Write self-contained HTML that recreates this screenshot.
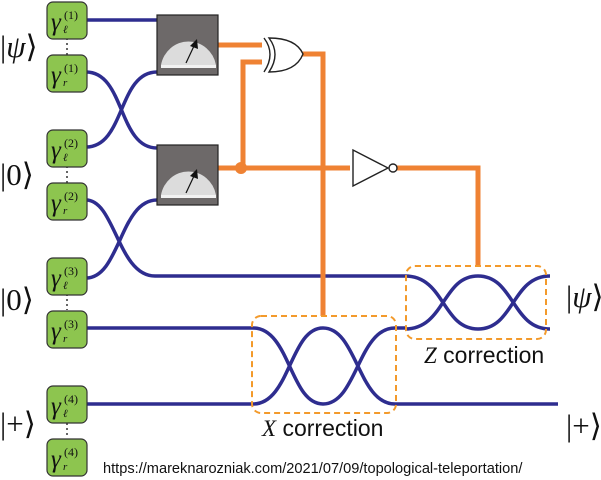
<!DOCTYPE html>
<html><head><meta charset="utf-8"><style>
html,body{margin:0;padding:0;background:#fff;}
svg{display:block}
.g{font-family:"Liberation Serif",serif;font-style:italic;}
.k{font-family:"Liberation Serif",serif;font-size:31px;}
.s{font-family:"Liberation Sans",sans-serif;}
</style></head><body>
<svg width="601" height="480" viewBox="0 0 601 480" xmlns="http://www.w3.org/2000/svg">
<defs>
<g id="meter">
<rect x="0" y="0" width="61" height="60" fill="#6d6969" stroke="#222" stroke-width="1.2"/>
<path d="M4,53 L4,50 A28,29 0 0 1 59,50 L59,53 Z" fill="#dcdcdc"/>
<rect x="4" y="50" width="55" height="3" fill="#f2f2f2"/>
<line x1="29" y1="48" x2="37" y2="31" stroke="#111" stroke-width="1.2"/>
<polygon points="40,24 41,34 33,31" fill="#111"/>
</g>
<g id="box">
<rect x="0" y="0" width="40" height="37" rx="6" fill="#8dc54f" stroke="#333" stroke-width="1.2"/>
</g>
</defs>

<g stroke="#333" stroke-width="1.5" stroke-dasharray="2,3">
<line x1="67" y1="38" x2="67" y2="55"/>
<line x1="67" y1="166" x2="67" y2="183"/>
<line x1="67" y1="294" x2="67" y2="310"/>
<line x1="67" y1="423" x2="67" y2="438"/>
</g>

<g fill="none" stroke="#2e2d8f" stroke-width="3.5">
<path d="M86,20 H157"/>
<path d="M86,72 C125,72 118,148 157,148"/>
<path d="M86,147 C125,147 118,72 157,72"/>
<path d="M86,200 C115,200 118,276 155,276 H405"/>
<path d="M86,278 C120,278 120,200 157,200"/>
<path d="M86,328 H253"/>
<path d="M86,404 H253"/>
<path d="M253,328 C290,328 290,404 323,404 C357,404 358,328 395,328 H405"/>
<path d="M253,404 C290,404 290,328 323,328 C357,328 358,404 395,404 H558"/>
<path d="M405,276 C445,276 442,329 478,329 C514,329 512,276 550,276"/>
<path d="M405,329 C445,329 442,276 478,276 C514,276 512,329 550,329"/>
</g>

<g fill="none" stroke="#ef8233" stroke-width="5">
<path d="M218,45 H262"/>
<path d="M262,62 H243 V168"/>
<path d="M218,168 H350"/>
<path d="M301,54 H323 V316"/>
<path d="M397,168 H478 V266"/>
</g>
<circle cx="241" cy="168" r="6" fill="#ef8233"/>

<g fill="none" stroke="#222" stroke-width="1.4">
<path d="M264,38 Q276,54 264,72"/>
<path d="M269,38 Q281,54 269,72 Q296,72 303,54 Q296,38 269,38 Z" fill="#fff"/>
</g>
<g fill="#fff" stroke="#222" stroke-width="1.4">
<polygon points="353,150 353,186 388,168"/>
<circle cx="393" cy="168" r="4"/>
</g>

<use href="#meter" x="157" y="15"/>
<use href="#meter" x="157" y="145"/>

<g fill="none" stroke="#f39a2b" stroke-width="2" stroke-dasharray="6,4">
<rect x="252" y="316" width="144" height="97" rx="9"/>
<rect x="406" y="266" width="140" height="73" rx="9"/>
</g>

<use href="#box" x="47" y="2"/>
<use href="#box" x="47" y="55"/>
<use href="#box" x="47" y="130"/>
<use href="#box" x="47" y="183"/>
<use href="#box" x="47" y="258"/>
<use href="#box" x="47" y="311"/>
<use href="#box" x="47" y="386"/>
<use href="#box" x="47" y="439"/>
<g fill="#111">
<g transform="translate(51,30)"><text class="g" font-size="25">γ</text><text class="g" font-size="11" x="12" y="3">ℓ</text><text font-family="Liberation Serif,serif" font-size="12" x="13" y="-11">(1)</text></g>
<g transform="translate(51,83)"><text class="g" font-size="25">γ</text><text class="g" font-size="11" x="12" y="3">r</text><text font-family="Liberation Serif,serif" font-size="12" x="13" y="-11">(1)</text></g>
<g transform="translate(51,158)"><text class="g" font-size="25">γ</text><text class="g" font-size="11" x="12" y="3">ℓ</text><text font-family="Liberation Serif,serif" font-size="12" x="13" y="-11">(2)</text></g>
<g transform="translate(51,211)"><text class="g" font-size="25">γ</text><text class="g" font-size="11" x="12" y="3">r</text><text font-family="Liberation Serif,serif" font-size="12" x="13" y="-11">(2)</text></g>
<g transform="translate(51,286)"><text class="g" font-size="25">γ</text><text class="g" font-size="11" x="12" y="3">ℓ</text><text font-family="Liberation Serif,serif" font-size="12" x="13" y="-11">(3)</text></g>
<g transform="translate(51,339)"><text class="g" font-size="25">γ</text><text class="g" font-size="11" x="12" y="3">r</text><text font-family="Liberation Serif,serif" font-size="12" x="13" y="-11">(3)</text></g>
<g transform="translate(51,414)"><text class="g" font-size="25">γ</text><text class="g" font-size="11" x="12" y="3">ℓ</text><text font-family="Liberation Serif,serif" font-size="12" x="13" y="-11">(4)</text></g>
<g transform="translate(51,467)"><text class="g" font-size="25">γ</text><text class="g" font-size="11" x="12" y="3">r</text><text font-family="Liberation Serif,serif" font-size="12" x="13" y="-11">(4)</text></g>

<text class="k" x="0" y="57">|<tspan font-style="italic">ψ</tspan>⟩</text>
<text class="k" x="0" y="185">|0⟩</text>
<text class="k" x="0" y="310">|0⟩</text>
<text class="k" x="0" y="434">|+⟩</text>
<text class="k" x="566" y="307">|<tspan font-style="italic">ψ</tspan>⟩</text>
<text class="k" x="566" y="436">|+⟩</text>

<text x="262" y="436" font-size="23"><tspan class="g">X</tspan><tspan class="s"> correction</tspan></text>
<text x="424" y="363" font-size="23"><tspan class="g">Z</tspan><tspan class="s"> correction</tspan></text>
<text class="s" x="103" y="473" font-size="14.6">https://mareknarozniak.com/2021/07/09/topological-teleportation/</text>
</g>
</svg>
</body></html>
